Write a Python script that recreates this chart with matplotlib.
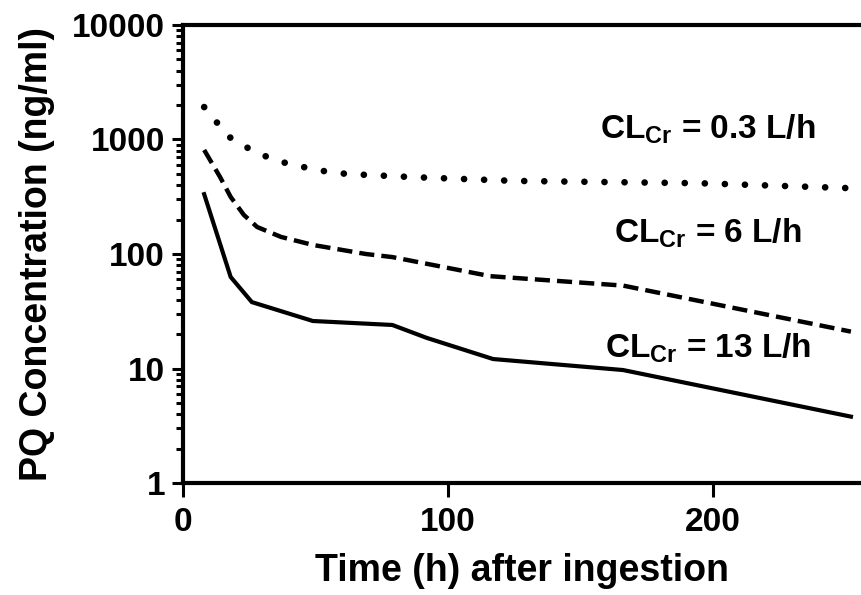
import numpy as np
import matplotlib
matplotlib.use("Agg")
import matplotlib.pyplot as plt

plt.rcParams['font.family'] = ['Liberation Sans', 'DejaVu Sans']
plt.rcParams['font.weight'] = 'bold'
plt.rcParams['mathtext.fontset'] = 'custom'
plt.rcParams['mathtext.rm'] = 'Liberation Sans:bold'
plt.rcParams['mathtext.bf'] = 'Liberation Sans:bold'

# PQ concentration-time profiles for three creatinine clearances
t_low = [8, 13, 18, 25, 32, 40, 47, 55, 62, 86, 125, 195, 250]
c_low = [1920, 1390, 1030, 830, 700, 610, 565, 520, 500, 470, 435, 415, 377]

t_mid = [8, 14, 18, 23, 28, 37, 49, 69, 79, 116, 166, 252]
c_mid = [810, 470, 315, 219, 172, 141, 120, 100, 94, 64, 53, 21]

t_high = [8, 18, 26, 49, 79, 92, 117, 166, 252]
c_high = [333, 63, 38, 26, 24, 18.5, 12.1, 9.7, 3.8]

labels = [r'CL$_{\mathbf{Cr}}$ = 0.3 L/h',
          r'CL$_{\mathbf{Cr}}$ = 6 L/h',
          r'CL$_{\mathbf{Cr}}$ = 13 L/h']
label_y = [1030, 127, 12.6]

fig = plt.figure(figsize=(8.61, 5.95), dpi=100)
ax = fig.add_axes([0.2125, 0.1882, 0.7875, 0.7698])

ax.plot(t_low, c_low, color='black', lw=4.8, linestyle=(0, (0.01, 3.0)),
        dash_capstyle='round', solid_capstyle='round')
ax.plot(t_mid, c_mid, color='black', lw=3.2, linestyle=(0, (3.4, 1.6)),
        dash_capstyle='butt')
ax.plot(t_high, c_high, color='black', lw=3.0, solid_joinstyle='miter')

for txt, y in zip(labels, label_y):
    ax.text(198, y, txt, ha='center', va='baseline', fontsize=24,
            fontweight='bold')

ax.set_yscale('log')
ax.set_ylim(1, 10000)
ax.set_xlim(0, 255.8)
ax.set_xticks([0, 100, 200])
ax.set_yticks([1, 10, 100, 1000, 10000])
ax.set_yticklabels(['1', '10', '100', '1000', '10000'])
ax.yaxis.set_minor_locator(matplotlib.ticker.LogLocator(base=10, subs=np.arange(2, 10)))
ax.yaxis.set_minor_formatter(matplotlib.ticker.NullFormatter())
ax.xaxis.set_minor_locator(matplotlib.ticker.NullLocator())

for side in ['left', 'bottom', 'top']:
    ax.spines[side].set_linewidth(3)
ax.spines['right'].set_visible(False)

ax.tick_params(axis='y', which='major', length=8, width=2.2, labelsize=24, pad=5)
ax.tick_params(axis='y', which='minor', length=5, width=2.2)
ax.tick_params(axis='x', which='major', length=10, width=2.2, labelsize=24, pad=7)

ax.set_xlabel('Time (h) after ingestion', fontsize=27, fontweight='bold', labelpad=11)
ax.set_ylabel('PQ Concentration (ng/ml)', fontsize=27, fontweight='bold', labelpad=12)

fig.savefig('out.png', dpi=100)
